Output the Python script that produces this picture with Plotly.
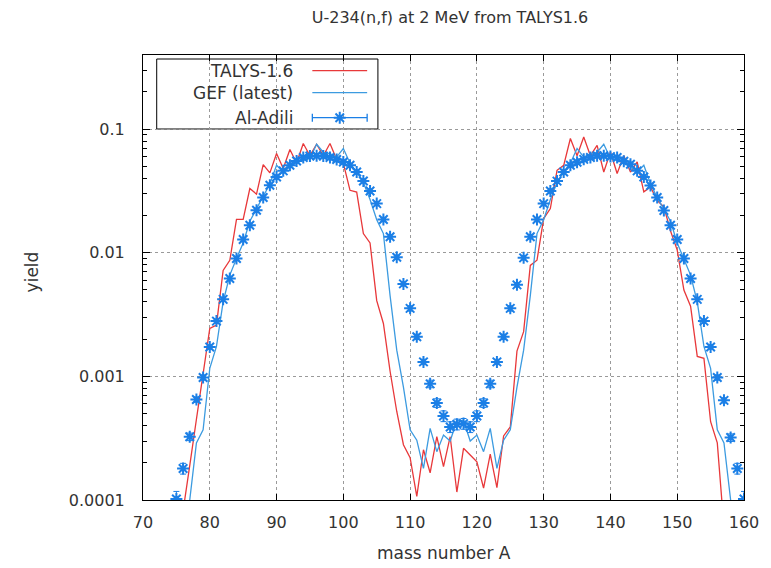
import plotly.graph_objects as go

# ---------------- data ----------------
talys_A = list(range(75, 158))
talys_y = [3.5e-5, 7.9e-5, 1.9e-4, 4.5e-4, 1.09e-3, 2.44e-3, 2.6e-3, 7.2e-3, 8.7e-3, 0.0186,
           0.0186, 0.0331, 0.0298, 0.0517, 0.0443, 0.0635, 0.048, 0.0684, 0.0533, 0.0765,
           0.061, 0.0755, 0.061, 0.0765, 0.0568, 0.053, 0.032, 0.031, 0.0143, 0.012,
           4.1e-3, 2.68e-3, 1.1e-3, 5.2e-4, 2.8e-4, 2.2e-4, 1.07e-4, 2.55e-4, 1.66e-4, 3.25e-4,
           1.86e-4, 3.25e-4, 1.16e-4, 2.62e-4, 2.31e-4, 2.04e-4, 1.25e-4, 2.35e-4, 1.26e-4, 3.3e-4,
           3.9e-4, 1.6e-3, 2.3e-3, 7.9e-3, 8.7e-3, 0.0189, 0.0228, 0.0465, 0.051, 0.084,
           0.061, 0.0865, 0.061, 0.074, 0.045, 0.0654, 0.0438, 0.061, 0.045, 0.0543,
           0.0311, 0.0341, 0.0265, 0.0235, 0.0150, 0.0105, 5.0e-3, 3.7e-3, 1.45e-3, 1.4e-3,
           4.3e-4, 2.9e-4, 6e-5]

gef_A = list(range(76, 160))
gef_y = [5e-5, 1.0e-4, 2.9e-4, 3.7e-4, 1.16e-3, 1.75e-3, 4.0e-3, 6.6e-3, 9.0e-3, 0.012,
         0.018, 0.0225, 0.028, 0.036, 0.051, 0.045, 0.0495, 0.056, 0.056, 0.058,
         0.0755, 0.065, 0.0635, 0.0595, 0.0697, 0.053, 0.045, 0.037, 0.027, 0.0185,
         0.0143, 4.5e-3, 1.63e-3, 8.2e-4, 3.7e-4, 3.05e-4, 1.8e-4, 3.8e-4, 2.46e-4, 3.35e-4,
         3.0e-4, 4.4e-4, 4.4e-4, 3.0e-4, 3.35e-4, 2.46e-4, 3.8e-4, 1.8e-4, 3.05e-4, 3.7e-4,
         8.2e-4, 1.63e-3, 4.5e-3, 0.0143, 0.0185, 0.027, 0.037, 0.045, 0.053, 0.0697,
         0.0595, 0.0635, 0.065, 0.0755, 0.058, 0.056, 0.056, 0.0495, 0.045, 0.051,
         0.036, 0.028, 0.0225, 0.018, 0.012, 9.0e-3, 6.6e-3, 4.0e-3, 1.75e-3, 1.16e-3,
         3.7e-4, 2.9e-4, 1.0e-4, 5e-5]

adili_A = list(range(75, 161))
adili_y = [1.02e-4, 1.80e-4, 3.25e-4, 6.5e-4, 9.8e-4, 1.73e-3, 2.8e-3, 4.2e-3, 6.2e-3, 9.0e-3,
           0.0128, 0.0167, 0.0221, 0.028, 0.0352, 0.041, 0.046, 0.051, 0.0553, 0.0589,
           0.0607, 0.0610, 0.0607, 0.0589, 0.0568, 0.0543, 0.051, 0.045, 0.0381, 0.0316,
           0.025, 0.0186, 0.0135, 9.2e-3, 5.6e-3, 3.55e-3, 2.09e-3, 1.31e-3, 8.7e-4, 6.1e-4,
           4.78e-4, 3.9e-4, 4.1e-4, 4.15e-4, 3.9e-4, 4.78e-4, 6.1e-4, 8.7e-4, 1.31e-3, 2.09e-3,
           3.55e-3, 5.5e-3, 9.1e-3, 0.0135, 0.0186, 0.025, 0.0316, 0.038, 0.045, 0.051,
           0.054, 0.057, 0.059, 0.061, 0.061, 0.060, 0.059, 0.055, 0.052, 0.046,
           0.041, 0.035, 0.028, 0.022, 0.0167, 0.0128, 9.0e-3, 6.2e-3, 4.2e-3, 2.8e-3,
           1.73e-3, 9.8e-4, 6.4e-4, 3.2e-4, 1.8e-4, 1.02e-4]
adili_relerr = [0.15, 0.10, 0.07, 0.05, 0.05, 0.04, 0.04, 0.04, 0.04, 0.04,
                0.04, 0.04, 0.04, 0.04, 0.04, 0.04, 0.04, 0.04, 0.04, 0.04,
                0.04, 0.04, 0.04, 0.04, 0.04, 0.04, 0.04, 0.04, 0.04, 0.04,
                0.04, 0.04, 0.04, 0.04, 0.04, 0.05, 0.05, 0.05, 0.07, 0.08,
                0.10, 0.10, 0.10, 0.10, 0.10, 0.10, 0.08, 0.07, 0.05, 0.05,
                0.05, 0.04, 0.04, 0.04, 0.04, 0.04, 0.04, 0.04, 0.04, 0.04,
                0.04, 0.04, 0.04, 0.04, 0.04, 0.04, 0.04, 0.04, 0.04, 0.04,
                0.04, 0.04, 0.04, 0.04, 0.04, 0.04, 0.04, 0.04, 0.04, 0.04,
                0.04, 0.05, 0.05, 0.07, 0.10, 0.15]

x_ticks = [70, 80, 90, 100, 110, 120, 130, 140, 150, 160]
y_ticks = [1e-4, 1e-3, 1e-2, 1e-1]
y_ticktext = ["0.0001", "0.001", "0.01", "0.1"]
legend_names = ["TALYS-1.6", "GEF (latest)", "Al-Adili"]

# ---------------- style ----------------
RED = "#e8383a"
GEF_BLUE = "#3c9be0"
PT_BLUE = "#1b7fe6"
FONT = "DejaVu Sans, Verdana, sans-serif"
TXT = "#333333"

W, H = 771, 568
L, R, T, B = 143, 14, 55, 68
PW, PH = W - L - R, H - T - B


def px2paper(px, py):
    return (px - L) / PW, (H - B - py) / PH


adili_err = [v * e for v, e in zip(adili_y, adili_relerr)]

fig = go.Figure()
fig.add_trace(go.Scatter(x=talys_A, y=talys_y, mode="lines", name=legend_names[0],
                         line=dict(color=RED, width=1.3), showlegend=False))
fig.add_trace(go.Scatter(x=gef_A, y=gef_y, mode="lines", name=legend_names[1],
                         line=dict(color=GEF_BLUE, width=1.3), showlegend=False))
fig.add_trace(go.Scatter(x=adili_A, y=adili_y, mode="markers", name=legend_names[2],
                         marker=dict(symbol="asterisk-open", size=10, color=PT_BLUE,
                                     line=dict(color=PT_BLUE, width=2)),
                         error_y=dict(type="data", array=adili_err, color=PT_BLUE,
                                      thickness=1, width=3),
                         showlegend=False))

# ---------- manual gnuplot-style key (text left, sample right) ----------
bx0, by1 = px2paper(157, 59)
bx1, by0 = px2paper(383, 129)
shapes = [dict(type="rect", xref="paper", yref="paper", x0=bx0, x1=bx1, y0=by0, y1=by1,
               line=dict(color="black", width=1), fillcolor="white", layer="between")]
row_py = [70.7, 92.7, 117.7]
sx0, _ = px2paper(316, 0)
sx1, _ = px2paper(372, 0)
tx, _ = px2paper(298, 0)
annotations = []
for i, name in enumerate(legend_names):
    _, yy = px2paper(0, row_py[i])
    annotations.append(dict(text=name, xref="paper", yref="paper", x=tx, y=yy,
                            xanchor="right", yanchor="middle", showarrow=False,
                            font=dict(family=FONT, size=17, color=TXT)))
    if i < 2:
        shapes.append(dict(type="line", xref="paper", yref="paper", x0=sx0, x1=sx1,
                           y0=yy, y1=yy, line=dict(color=[RED, GEF_BLUE][i], width=1.3),
                           layer="above"))
_, ky = px2paper(0, row_py[2])
fig.add_trace(go.Scatter(x=[(sx0 + sx1) / 2], y=[ky], mode="markers", xaxis="x2", yaxis="y2",
                         marker=dict(symbol="asterisk-open", size=10, color=PT_BLUE,
                                     line=dict(color=PT_BLUE, width=2)),
                         error_x=dict(type="constant", value=(sx1 - sx0) / 2, color=PT_BLUE,
                                      thickness=1.3, width=4),
                         showlegend=False, hoverinfo="skip"))

# axis titles
annotations.append(dict(text="mass number A", xref="paper", yref="paper",
                        x=px2paper(450, 0)[0], y=px2paper(0, 553)[1],
                        xanchor="center", yanchor="middle", showarrow=False,
                        font=dict(family=FONT, size=17, color=TXT)))
annotations.append(dict(text="yield", xref="paper", yref="paper",
                        x=px2paper(30, 0)[0], y=px2paper(0, 272)[1], textangle=-90,
                        xanchor="center", yanchor="middle", showarrow=False,
                        font=dict(family=FONT, size=17, color=TXT)))

minor_vals = [k * 10.0 ** e for e in range(-4, 0) for k in range(2, 10)]

fig.update_layout(
    width=W, height=H,
    margin=dict(l=L, r=R, t=T, b=B),
    paper_bgcolor="white", plot_bgcolor="white",
    showlegend=False,
    title=dict(text="U-234(n,f) at 2 MeV from TALYS1.6", x=450 / W, xanchor="center",
               y=1 - 17 / H, yanchor="middle", yref="container",
               font=dict(family=FONT, size=16, color=TXT)),
    xaxis=dict(range=[70, 160], tickvals=x_ticks, ticks="inside", ticklen=6,
               tickcolor="black", showline=True, linecolor="black", linewidth=1,
               mirror="allticks", showgrid=True, gridcolor="#9a9a9a", griddash="dot",
               gridwidth=1, zeroline=False, ticklabelstandoff=8,
               ticklabeloverflow="allow",
               tickfont=dict(family=FONT, size=16, color=TXT)),
    yaxis=dict(type="log", range=[-4, -0.4], tickvals=y_ticks, ticktext=y_ticktext,
               ticks="inside", ticklen=7, tickcolor="black", showline=True,
               linecolor="black", linewidth=1, mirror="allticks", showgrid=True,
               gridcolor="#9a9a9a", griddash="dot", gridwidth=1, zeroline=False,
               ticklabelstandoff=14, ticklabeloverflow="allow",
               minor=dict(tickvals=minor_vals, ticks="inside", ticklen=4,
                          tickcolor="black", showgrid=False),
               tickfont=dict(family=FONT, size=16, color=TXT)),
    xaxis2=dict(overlaying="x", range=[0, 1], visible=False, fixedrange=True),
    yaxis2=dict(overlaying="y", range=[0, 1], visible=False, fixedrange=True),
    shapes=shapes,
    annotations=annotations,
)

fig.write_html("out.html")
